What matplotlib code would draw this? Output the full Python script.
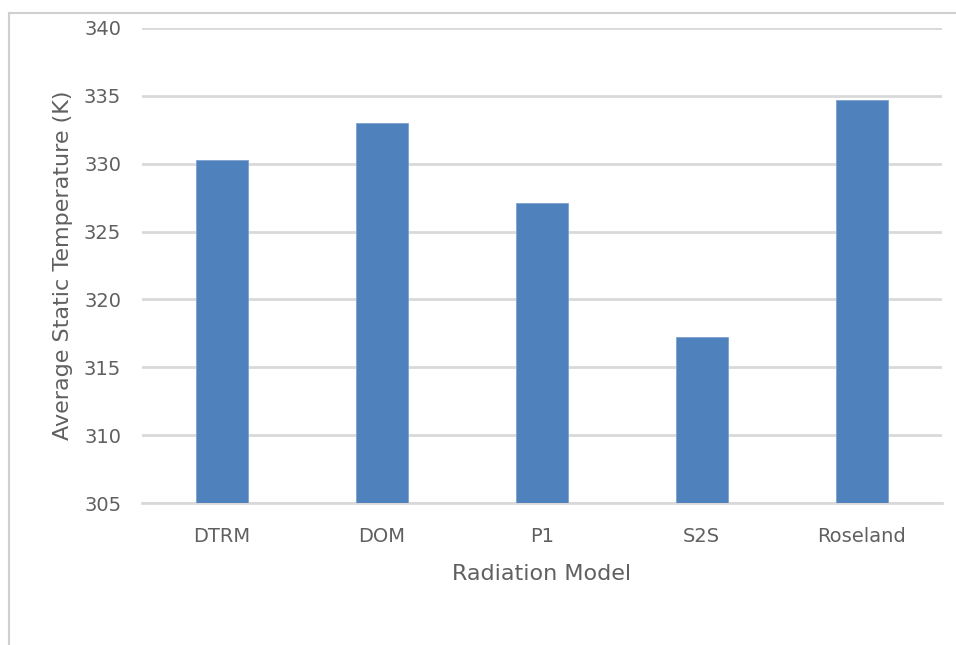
import matplotlib.pyplot as plt
from matplotlib.lines import Line2D

# Average static temperature for each radiation model
models = ["DTRM", "DOM", "P1", "S2S", "Roseland"]
temps = [330.3, 333.0, 327.1, 317.2, 334.7]
yticks = [305, 310, 315, 320, 325, 330, 335, 340]

plt.rcParams['font.family'] = ['DejaVu Sans']

fig = plt.figure(figsize=(9.56, 6.45), dpi=100)
ax = fig.add_axes([0.1485, 0.22, 0.8365, 0.7366])

ax.bar(range(len(models)), temps, width=0.325, color='#4f81bd', zorder=3,
       edgecolor='#7ea1d0', linewidth=0.6)

ax.set_xlim(-0.5, len(models) - 0.5)
ax.set_ylim(305, 340)
ax.set_yticks(yticks)
ax.set_xticks(range(len(models)))
ax.set_xticklabels(models)
ax.yaxis.grid(True, color='#d9d9d9', linewidth=2, zorder=0)
ax.set_axisbelow(True)

for s in ['top', 'right', 'left']:
    ax.spines[s].set_visible(False)
ax.spines['bottom'].set_color('#d9d9d9')
ax.spines['bottom'].set_linewidth(2)
ax.tick_params(axis='both', length=0, labelsize=14, colors='#606060')
ax.tick_params(axis='y', pad=15)
ax.tick_params(axis='x', pad=17)

ax.set_xlabel("Radiation Model", fontsize=16, color='#606060', labelpad=13)
ax.set_ylabel("Average Static Temperature (K)", fontsize=16, color='#606060',
              labelpad=8)

# chart area border
fig.add_artist(Line2D([0.0095, 0.0095], [0.0, 0.98], color='#d0d0d0',
                      linewidth=1.5, transform=fig.transFigure))
fig.add_artist(Line2D([0.0095, 1.0], [0.98, 0.98], color='#d0d0d0',
                      linewidth=1.5, transform=fig.transFigure))

fig.savefig("out.png", dpi=100)
